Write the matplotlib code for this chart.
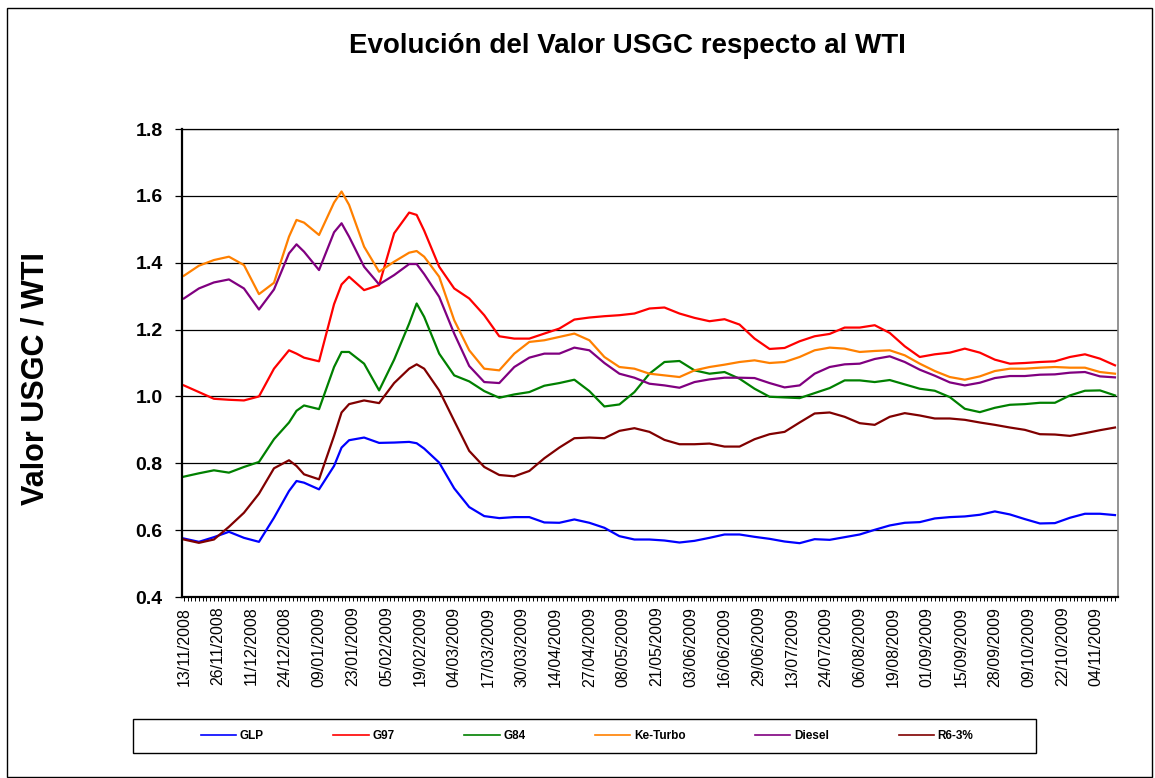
import matplotlib
matplotlib.use('Agg')
import matplotlib.pyplot as plt
from matplotlib.patches import Rectangle

plt.rcParams['font.family'] = ['Liberation Sans', 'DejaVu Sans']

# category positions (trading days since 13/11/2008) where values were read
idx = [0, 4, 8, 12, 16, 20, 24, 28, 30, 32, 36, 40, 42, 44, 48, 52, 56, 60, 62, 64,
       68, 72, 76, 80, 84, 88, 92, 96, 100, 104, 108, 112, 116, 120, 124,
       128, 132, 136, 140, 144, 148, 152, 156, 160, 164, 168, 172, 176, 180, 184,
       188, 192, 196, 200, 204, 208, 212, 216, 220, 224, 228, 232, 236, 240, 244, 248]
n_days = 249

tick_labels = ['13/11/2008', '26/11/2008', '11/12/2008', '24/12/2008', '09/01/2009',
               '23/01/2009', '05/02/2009', '19/02/2009', '04/03/2009', '17/03/2009',
               '30/03/2009', '14/04/2009', '27/04/2009', '08/05/2009', '21/05/2009',
               '03/06/2009', '16/06/2009', '29/06/2009', '13/07/2009', '24/07/2009',
               '06/08/2009', '19/08/2009', '01/09/2009', '15/09/2009', '28/09/2009',
               '09/10/2009', '22/10/2009', '04/11/2009']
label_step = 9

glp = [0.575, 0.565, 0.579, 0.595, 0.577, 0.565, 0.637, 0.717, 0.747, 0.742, 0.722, 0.792,
       0.847, 0.869, 0.877, 0.861, 0.862, 0.864, 0.86, 0.844, 0.802, 0.725, 0.669, 0.642,
       0.636, 0.639, 0.639, 0.623, 0.622, 0.632, 0.622, 0.607, 0.582, 0.572, 0.572,
       0.569, 0.563, 0.568, 0.577, 0.587, 0.587, 0.58, 0.574, 0.566, 0.561, 0.573, 0.571,
       0.579, 0.587, 0.601, 0.614, 0.622, 0.624, 0.635, 0.639, 0.641, 0.646, 0.656, 0.647,
       0.633, 0.62, 0.621, 0.637, 0.649, 0.649, 0.645]
g97 = [1.033, 1.013, 0.993, 0.99, 0.988, 1.0, 1.083, 1.138, 1.128, 1.116, 1.105, 1.276,
       1.335, 1.358, 1.318, 1.333, 1.488, 1.55, 1.543, 1.496, 1.388, 1.323, 1.293, 1.243,
       1.18, 1.173, 1.173, 1.188, 1.203, 1.23, 1.236, 1.24, 1.243, 1.248, 1.263,
       1.266, 1.248, 1.235, 1.225, 1.231, 1.215, 1.173, 1.142, 1.145, 1.165, 1.18, 1.187,
       1.206, 1.206, 1.213, 1.19, 1.15, 1.118, 1.126, 1.131, 1.143, 1.131, 1.11, 1.098,
       1.1, 1.103, 1.105, 1.118, 1.126, 1.113, 1.093]
g84 = [0.76, 0.77, 0.779, 0.772, 0.789, 0.804, 0.872, 0.922, 0.957, 0.973, 0.962, 1.088,
       1.133, 1.133, 1.098, 1.018, 1.11, 1.218, 1.278, 1.238, 1.128, 1.063, 1.045, 1.016,
       0.996, 1.006, 1.013, 1.032, 1.04, 1.05, 1.016, 0.97, 0.976, 1.013, 1.068,
       1.103, 1.106, 1.078, 1.068, 1.073, 1.053, 1.023, 0.999, 0.997, 0.995, 1.01, 1.025,
       1.048, 1.048, 1.043, 1.049, 1.036, 1.023, 1.017, 0.998, 0.963, 0.953, 0.966, 0.975,
       0.977, 0.981, 0.981, 1.003, 1.017, 1.018, 1.003]
ke_turbo = [1.361, 1.391, 1.408, 1.418, 1.393, 1.306, 1.34, 1.478, 1.528, 1.52, 1.483, 1.58,
            1.613, 1.573, 1.448, 1.373, 1.403, 1.43, 1.435, 1.418, 1.358, 1.228, 1.138, 1.083,
            1.078, 1.128, 1.163, 1.168, 1.178, 1.188, 1.168, 1.118, 1.088, 1.083, 1.068,
            1.063, 1.058, 1.078, 1.088, 1.095, 1.103, 1.108, 1.1, 1.103, 1.118, 1.138, 1.146,
            1.143, 1.133, 1.136, 1.138, 1.123, 1.098, 1.076, 1.058, 1.05, 1.06, 1.076, 1.083,
            1.083, 1.086, 1.088, 1.086, 1.086, 1.073, 1.068]
diesel = [1.293, 1.323, 1.341, 1.35, 1.323, 1.26, 1.32, 1.428, 1.455, 1.433, 1.378, 1.491,
          1.518, 1.478, 1.388, 1.335, 1.363, 1.396, 1.396, 1.366, 1.298, 1.188, 1.091, 1.043,
          1.04, 1.088, 1.116, 1.128, 1.128, 1.146, 1.138, 1.1, 1.068, 1.056, 1.038,
          1.033, 1.026, 1.043, 1.051, 1.056, 1.056, 1.055, 1.04, 1.027, 1.033, 1.068, 1.088,
          1.096, 1.098, 1.112, 1.12, 1.103, 1.08, 1.062, 1.042, 1.033, 1.041, 1.055, 1.061,
          1.061, 1.065, 1.066, 1.071, 1.073, 1.06, 1.057]
r6 = [0.572, 0.562, 0.572, 0.61, 0.652, 0.709, 0.785, 0.809, 0.792, 0.767, 0.752, 0.882,
      0.952, 0.977, 0.988, 0.98, 1.04, 1.083, 1.096, 1.083, 1.018, 0.927, 0.837, 0.789,
      0.765, 0.761, 0.777, 0.815, 0.847, 0.875, 0.877, 0.875, 0.897, 0.905, 0.894,
      0.87, 0.857, 0.857, 0.859, 0.85, 0.85, 0.872, 0.887, 0.894, 0.922, 0.949, 0.952,
      0.939, 0.92, 0.915, 0.939, 0.95, 0.943, 0.934, 0.934, 0.93, 0.922, 0.915, 0.907,
      0.9, 0.887, 0.886, 0.882, 0.89, 0.899, 0.907]

series = [('GLP', glp, '#0000FF'), ('G97', g97, '#FF0000'), ('G84', g84, '#008000'),
          ('Ke-Turbo', ke_turbo, '#FF8000'), ('Diesel', diesel, '#800080'),
          ('R6-3%', r6, '#800000')]

W, H = 1155, 778
fig = plt.figure(figsize=(W / 100, H / 100), dpi=100)
ax = fig.add_axes([182 / W, 1 - 597 / H, (1118 - 182) / W, (597 - 129) / H])

for name, vals, col in series:
    ax.plot(idx, vals, color=col, lw=1.6, label=name)

ax.set_xlim(-0.5, n_days - 0.2)
ax.set_ylim(0.4, 1.8)
ax.set_yticks([0.4, 0.6, 0.8, 1.0, 1.2, 1.4, 1.6, 1.8])
ax.set_yticklabels(['%.1f' % v for v in ax.get_yticks()], fontsize=14, fontweight='bold')
ax.yaxis.grid(True, color='black', lw=0.9)
ax.set_axisbelow(True)

ax.set_xticks(range(0, label_step * len(tick_labels), label_step))
ax.set_xticklabels(tick_labels, rotation=90, fontsize=11.5)
ax.set_xticks(range(n_days), minor=True)
ax.tick_params(axis='x', which='both', direction='out', length=3, width=0.7, pad=4)
ax.tick_params(axis='y', direction='out', length=5, width=0.9, pad=9)

ax.spines['left'].set_linewidth(1.6)
ax.spines['bottom'].set_linewidth(1.6)
ax.spines['right'].set_color('#808080')
ax.spines['right'].set_linewidth(1.2)
ax.spines['top'].set_linewidth(0.9)

fig.text(627 / W, 1 - 46 / H, 'Evolución del Valor USGC respecto al WTI',
         fontsize=20, fontweight='bold', ha='center', va='center')
fig.text(36 / W, 1 - 379 / H, 'Valor USGC / WTI', fontsize=22, fontweight='bold',
         rotation=90, ha='center', va='center')

# legend box and outer border
fig.patches.append(Rectangle((133 / W, 1 - 753 / H), (1036 - 133) / W, 34 / H,
                             transform=fig.transFigure, fill=False, ec='black', lw=1.0))
fig.patches.append(Rectangle((7 / W, 1 - 777 / H), (1152 - 7) / W, 769 / H,
                             transform=fig.transFigure, fill=False, ec='black', lw=1.0))
leg = fig.legend(loc='center', bbox_to_anchor=(587 / W, 1 - 736 / H), ncol=6,
                 frameon=False, prop={'size': 8.5, 'weight': 'bold'},
                 handlelength=3.0, handletextpad=0.3, columnspacing=5.9)
for line in leg.get_lines():
    line.set_linewidth(1.2)

fig.savefig('out.png', dpi=100)
